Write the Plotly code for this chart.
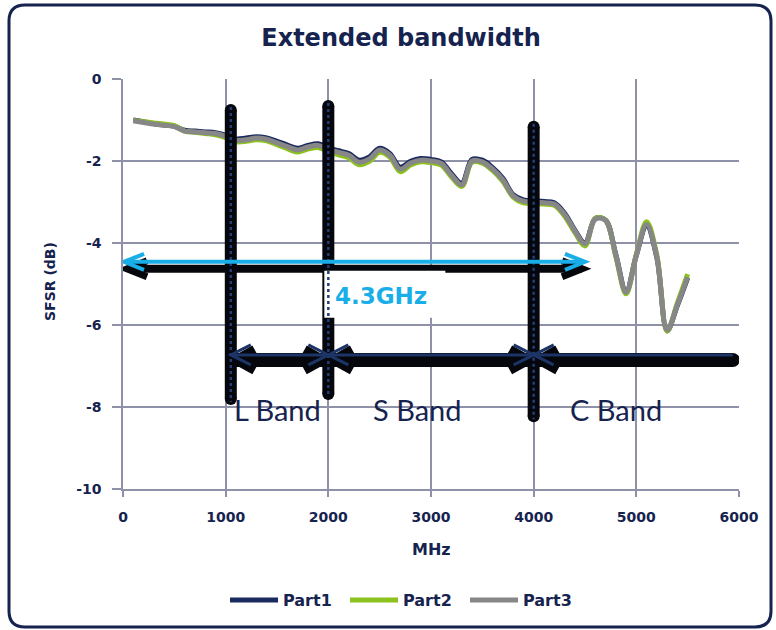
import plotly.graph_objects as go

# ---------------- data ----------------
freq_mhz = [100, 200, 300, 400, 500, 600, 700, 800, 900, 1000,
            1100, 1200, 1300, 1400, 1500, 1600, 1700, 1800, 1900, 2000,
            2100, 2200, 2300, 2400, 2500, 2600, 2700, 2800, 2900, 3000,
            3100, 3200, 3300, 3400, 3500, 3600, 3700, 3800, 3900, 4000,
            4100, 4200, 4300, 4400, 4500, 4600, 4700, 4800, 4900, 5000,
            5100, 5200, 5300, 5400, 5500]

part1 = [-1.00, -1.04, -1.09, -1.12, -1.15, -1.25, -1.27, -1.29, -1.31, -1.37,
         -1.46, -1.44, -1.41, -1.44, -1.52, -1.61, -1.69, -1.62, -1.58, -1.68,
         -1.75, -1.82, -1.98, -1.90, -1.69, -1.82, -2.15, -2.01, -1.94, -1.96,
         -2.02, -2.31, -2.54, -1.96, -1.98, -2.16, -2.42, -2.82, -2.95, -2.97,
         -2.99, -3.02, -3.27, -3.68, -4.00, -3.40, -3.44, -4.28, -5.18, -4.30,
         -3.58, -4.36, -6.14, -5.52, -4.85]

part2 = [-1.01, -1.04, -1.07, -1.10, -1.14, -1.27, -1.30, -1.33, -1.36, -1.43,
         -1.53, -1.52, -1.48, -1.51, -1.60, -1.70, -1.78, -1.71, -1.67, -1.77,
         -1.85, -1.92, -2.09, -2.01, -1.79, -1.91, -2.26, -2.10, -2.02, -2.04,
         -2.10, -2.39, -2.62, -2.03, -2.05, -2.23, -2.50, -2.88, -3.02, -3.04,
         -3.05, -3.08, -3.34, -3.74, -4.07, -3.40, -3.44, -4.33, -5.24, -4.28,
         -3.48, -4.30, -6.15, -5.46, -4.76]

part3 = [-1.02, -1.06, -1.10, -1.13, -1.16, -1.27, -1.29, -1.31, -1.33, -1.40,
         -1.50, -1.48, -1.44, -1.47, -1.56, -1.65, -1.73, -1.66, -1.62, -1.72,
         -1.79, -1.86, -2.03, -1.95, -1.73, -1.86, -2.20, -2.05, -1.98, -2.00,
         -2.06, -2.35, -2.58, -2.00, -2.02, -2.20, -2.46, -2.85, -2.98, -3.00,
         -3.02, -3.05, -3.30, -3.70, -4.02, -3.42, -3.45, -4.30, -5.20, -4.30,
         -3.55, -4.34, -6.12, -5.50, -4.83]

series_names = ["Part1", "Part2", "Part3"]
series_values = [part1, part2, part3]

x_tick_vals = [0, 1000, 2000, 3000, 4000, 5000, 6000]
x_tick_text = ["0", "1000", "2000", "3000", "4000", "5000", "6000"]
y_tick_vals = [-10, -8, -6, -4, -2, 0]
y_tick_text = ["-10", "-8", "-6", "-4", "-2", "0"]

title_text = "Extended bandwidth"
x_title = "MHz"
y_title = "SFSR (dB)"

# band annotation values (MHz / dB)
band_edges = [1050, 2000, 4000]
band_bar_top = [-0.61, -0.51, -1.02]
band_bar_bottom = [-7.95, -7.83, -8.37]
band_labels = ["L Band", "S Band", "C Band"]
band_label_x = [1500, 2870, 4800]
band_label_y = -8.07
band_arrow_y = -6.73
band_arrow_end = 5940

span_label = "4.3GHz"
span_start = 10
span_end = 4500
span_y = -4.46
span_label_x = 2045
span_label_y = -5.29

# ---------------- styles ----------------
NAVY = "#16234F"
series_colors = ["#1B2A5E", "#8DC21E", "#878787"]
GRID = "#8E91A7"
CYAN = "#19AEE8"
FONT = "DejaVu Sans"

W, H = 776, 630
ML, MR, MT, MB = 123, 37, 79, 141
PW, PH = W - ML - MR, H - MT - MB
XR = [0, 6000]
YR = [-10, 0]


def px_x(p):
    return p * (XR[1] - XR[0]) / PW


def px_y(p):
    return p * (YR[1] - YR[0]) / PH


def paper_x(px):
    return (px - ML) / PW


def paper_y(py):
    return (H - MB - py) / PH


fig = go.Figure()
for name, vals, col in zip(series_names, series_values, series_colors):
    fig.add_trace(go.Scatter(
        x=freq_mhz, y=vals, name=name, mode="lines",
        line=dict(color=col, width=5, shape="spline", smoothing=1.0),
        hoverinfo="skip"))

shapes = []


def circle_cap(x, y, r, color):
    return dict(type="circle", xref="x", yref="y", xsizemode="pixel",
                ysizemode="pixel", xanchor=x, yanchor=y,
                x0=-r, x1=r, y0=-r, y1=r, fillcolor=color,
                line=dict(width=0), layer="above")


def chevron(xt, yt, d, ax, ay, dxp=0, dyp=0):
    X = xt + px_x(dxp)
    Y = yt - px_y(dyp)
    xa = X - d * px_x(ax)
    return f"M{xa},{Y + px_y(ay)} L{X},{Y} L{xa},{Y - px_y(ay)}"


# black vertical bars with rounded ends
for xe, top, bot in zip(band_edges, band_bar_top, band_bar_bottom):
    t = top - px_y(6)
    b = bot + px_y(6)
    shapes.append(dict(type="line", xref="x", yref="y", x0=xe, x1=xe,
                       y0=t, y1=b, line=dict(color="#05070C", width=12),
                       layer="above"))
    shapes.append(circle_cap(xe, t, 6, "#05070C"))
    shapes.append(circle_cap(xe, b, 6, "#05070C"))

# cyan span arrow shadow
sh_dy = 7
shapes.append(dict(type="line", xref="x", yref="y",
                   x0=span_start + px_x(5), x1=span_end - px_x(3),
                   y0=span_y - px_y(sh_dy), y1=span_y - px_y(sh_dy),
                   line=dict(color="#05070C", width=8), layer="above"))
for xt, d in [(span_start, -1), (span_end, 1)]:
    shapes.append(dict(type="path", xref="x", yref="y",
                       path=chevron(xt, span_y, d, 20, 8, dxp=-d * 3,
                                    dyp=sh_dy),
                       line=dict(color="#05070C", width=7), layer="above"))

# band arrow shadow
bd = 5
shapes.append(dict(type="line", xref="x", yref="y",
                   x0=band_edges[0] + px_x(4), x1=band_arrow_end,
                   y0=band_arrow_y - px_y(bd), y1=band_arrow_y - px_y(bd),
                   line=dict(color="#05070C", width=14), layer="above"))
shapes.append(circle_cap(band_arrow_end, band_arrow_y - px_y(bd), 7, "#05070C"))
band_chevrons = [(band_edges[0], -1), (band_edges[1], 1), (band_edges[1], -1),
                 (band_edges[2], 1), (band_edges[2], -1)]
for xt, d in band_chevrons:
    shapes.append(dict(type="path", xref="x", yref="y",
                       path=chevron(xt, band_arrow_y, d, 18, 10, dxp=-d * 6,
                                    dyp=bd),
                       line=dict(color="#05070C", width=10), layer="above"))

# white label box
shapes.append(dict(type="rect", xref="x", yref="y",
                   x0=band_edges[1] - px_x(4), x1=band_edges[1] + px_x(117),
                   y0=span_y - px_y(9), y1=span_y - px_y(56),
                   fillcolor="white", line=dict(width=0), layer="above"))

# dotted centre lines of the bars
for xe, top, bot in zip(band_edges, band_bar_top, band_bar_bottom):
    shapes.append(dict(type="line", xref="x", yref="y", x0=xe, x1=xe,
                       y0=top - px_y(3), y1=bot + px_y(3),
                       line=dict(color="#233E78", width=2.5, dash="dot"),
                       layer="above"))

# cyan arrow
shapes.append(dict(type="line", xref="x", yref="y",
                   x0=span_start + px_x(1), x1=span_end - px_x(1),
                   y0=span_y, y1=span_y,
                   line=dict(color=CYAN, width=4), layer="above"))
for xt, d in [(span_start, -1), (span_end, 1)]:
    shapes.append(dict(type="path", xref="x", yref="y",
                       path=chevron(xt, span_y, d, 20, 8),
                       line=dict(color=CYAN, width=4), layer="above"))

# navy band arrow
shapes.append(dict(type="line", xref="x", yref="y",
                   x0=band_edges[0], x1=band_arrow_end,
                   y0=band_arrow_y, y1=band_arrow_y,
                   line=dict(color="#1C3466", width=3), layer="above"))
for xt, d in band_chevrons:
    shapes.append(dict(type="path", xref="x", yref="y",
                       path=chevron(xt, band_arrow_y, d, 20, 10),
                       line=dict(color="#1C3466", width=3), layer="above"))

# outer rounded frame
fx0, fy0, fx1, fy1, rr = 9, 5, 771, 627, 16
fp = (f"M{paper_x(fx0 + rr)},{paper_y(fy0)} "
      f"L{paper_x(fx1 - rr)},{paper_y(fy0)} "
      f"Q{paper_x(fx1)},{paper_y(fy0)} {paper_x(fx1)},{paper_y(fy0 + rr)} "
      f"L{paper_x(fx1)},{paper_y(fy1 - rr)} "
      f"Q{paper_x(fx1)},{paper_y(fy1)} {paper_x(fx1 - rr)},{paper_y(fy1)} "
      f"L{paper_x(fx0 + rr)},{paper_y(fy1)} "
      f"Q{paper_x(fx0)},{paper_y(fy1)} {paper_x(fx0)},{paper_y(fy1 - rr)} "
      f"L{paper_x(fx0)},{paper_y(fy0 + rr)} "
      f"Q{paper_x(fx0)},{paper_y(fy0)} {paper_x(fx0 + rr)},{paper_y(fy0)} Z")
shapes.append(dict(type="path", xref="paper", yref="paper", path=fp,
                   line=dict(color=NAVY, width=3), layer="above"))

annotations = []
for lab, lx in zip(band_labels, band_label_x):
    annotations.append(dict(x=lx, y=band_label_y, xref="x", yref="y",
                            text=lab, showarrow=False, xanchor="center",
                            yanchor="middle",
                            font=dict(family="Lato", size=29, color=NAVY)))
annotations.append(dict(x=span_label_x, y=span_label_y, xref="x", yref="y",
                        text=span_label, showarrow=False, xanchor="left",
                        yanchor="middle",
                        font=dict(family=FONT, size=23, color=CYAN,
                                  weight="bold")))
annotations.append(dict(x=0.5, y=paper_y(549), xref="paper", yref="paper",
                        text=x_title, showarrow=False, xanchor="center",
                        yanchor="middle",
                        font=dict(family=FONT, size=16, color=NAVY,
                                  weight="bold")))
annotations.append(dict(x=paper_x(50), y=paper_y(282), xref="paper",
                        yref="paper", text=y_title, showarrow=False,
                        textangle=-90, xanchor="center", yanchor="middle",
                        font=dict(family=FONT, size=14, color=NAVY,
                                  weight="bold")))

fig.update_layout(
    width=W, height=H,
    margin=dict(l=ML, r=MR, t=MT, b=MB),
    paper_bgcolor="white", plot_bgcolor="white",
    title=dict(text=title_text, x=paper_x(401), xref="paper",
               xanchor="center", y=1 - 38 / H, yanchor="middle",
               font=dict(family=FONT, size=24, color=NAVY, weight="bold")),
    xaxis=dict(range=XR, tickvals=x_tick_vals, ticktext=x_tick_text,
               showgrid=True, gridcolor=GRID, gridwidth=1.5,
               showline=True, linecolor=GRID, linewidth=1.5,
               ticks="outside", ticklen=6, tickcolor=GRID, tickwidth=1.5,
               ticklabelstandoff=8, zeroline=False,
               tickfont=dict(family=FONT, size=14, color=NAVY,
                             weight="bold")),
    yaxis=dict(range=YR, tickvals=y_tick_vals, ticktext=y_tick_text,
               showgrid=True, gridcolor=GRID, gridwidth=1.5,
               showline=True, linecolor=GRID, linewidth=1.5,
               ticks="outside", ticklen=9, tickcolor=GRID, tickwidth=1.5,
               ticklabelstandoff=8, zeroline=False,
               tickfont=dict(family=FONT, size=14, color=NAVY,
                             weight="bold")),
    legend=dict(orientation="h", x=paper_x(225), xanchor="left",
                y=paper_y(600), yanchor="middle", itemwidth=48,
                entrywidth=57,
                font=dict(family=FONT, size=16, color=NAVY, weight="bold"),
                bgcolor="rgba(0,0,0,0)"),
    shapes=shapes,
    annotations=annotations,
    hovermode=False,
)

fig.write_html("out.html",
               config={"displayModeBar": False},
               post_script="document.body.style.margin='0';"
                           "document.body.style.overflow='hidden';")
